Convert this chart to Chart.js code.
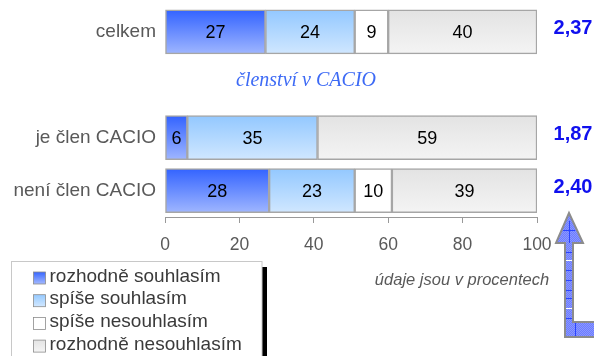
<!DOCTYPE html>
<html>
<head>
<meta charset="utf-8">
<script src="https://cdn.jsdelivr.net/npm/chart.js@4.4.1/dist/chart.umd.min.js"></script>
<style>
  html, body { margin: 0; padding: 0; background: #ffffff; }
  #wrap { width: 594px; height: 356px; }
</style>
</head>
<body>
<div id="wrap"><canvas id="c" width="594" height="356"></canvas></div>
<script>
// Rows of the chart; the empty row holds the "členství v CACIO" caption
const categories = ['celkem', '', 'je člen CACIO', 'není člen CACIO'];

// Answer shares in percent
const rozhodneSouhlasim   = [27, null, 6, 28];
const spiseSouhlasim      = [24, null, 35, 23];
const spiseNesouhlasim    = [9, null, 0, 10];
const rozhodneNesouhlasim = [40, null, 59, 39];

// Average score per row
const prumery = [2.37, null, 1.87, 2.40];

const seriesNames = ['rozhodně souhlasím', 'spíše souhlasím', 'spíše nesouhlasím', 'rozhodně nesouhlasím'];
const xTicks = [0, 20, 40, 60, 80, 100];

const groupCaption = 'členství v CACIO';
const unitNote = 'údaje jsou v procentech';

// Vertical colour ramps for each answer
const ramps = [
  ['#3363ff', '#9fb6ff'],
  ['#93c8ff', '#d0e7ff'],
  ['#ffffff', '#ffffff'],
  ['#e3e3e3', '#f4f4f4']
];

const BAR_H = 44;
const FONT = '"Liberation Sans", Arial, sans-serif';

function rampFill(idx) {
  return function (context) {
    const chart = context.chart;
    const yScale = chart.scales.y;
    if (!chart.chartArea || !yScale || context.dataIndex === undefined) return ramps[idx][0];
    const cy = yScale.getPixelForValue(context.dataIndex);
    const g = chart.ctx.createLinearGradient(0, cy - BAR_H / 2, 0, cy + BAR_H / 2);
    g.addColorStop(0, ramps[idx][0]);
    g.addColorStop(1, ramps[idx][1]);
    return g;
  };
}

const seriesData = [rozhodneSouhlasim, spiseSouhlasim, spiseNesouhlasim, rozhodneNesouhlasim];

const datasets = seriesData.map((d, i) => ({
  label: seriesNames[i],
  data: d,
  backgroundColor: rampFill(i),
  borderColor: '#a6a6a6',
  borderWidth: 1.5,
  borderSkipped: false,
  barThickness: BAR_H
}));

// Numbers inside the segments, averages on the right and the extra captions
const annotations = {
  id: 'annotations',
  afterDatasetsDraw(chart) {
    const ctx = chart.ctx;
    ctx.save();
    ctx.font = '18px ' + FONT;
    ctx.fillStyle = '#000000';
    ctx.textAlign = 'center';
    ctx.textBaseline = 'middle';
    chart.data.datasets.forEach((ds, di) => {
      const meta = chart.getDatasetMeta(di);
      meta.data.forEach((el, i) => {
        const v = ds.data[i];
        if (v === null || v === 0) return;
        ctx.fillText(String(v), (el.x + el.base) / 2, el.y + 1);
      });
    });

    const yScale = chart.scales.y;
    ctx.font = 'bold 20px ' + FONT;
    ctx.fillStyle = '#1010ee';
    prumery.forEach((m, i) => {
      if (m === null) return;
      ctx.fillText(m.toFixed(2).replace('.', ','), 573, yScale.getPixelForValue(i) - 3);
    });

    ctx.font = 'italic 20px "Liberation Serif", "Times New Roman", serif';
    ctx.fillStyle = '#3d6af5';
    ctx.fillText(groupCaption, 306, yScale.getPixelForValue(1) - 4);

    ctx.font = 'italic 16.5px ' + FONT;
    ctx.fillStyle = '#595959';
    ctx.fillText(unitNote, 462, 280);
    ctx.restore();
  },
  afterDraw(chart) {
    const ctx = chart.ctx;
    ctx.save();

    // legend box with its dark shadow edge
    ctx.fillStyle = '#000000';
    ctx.fillRect(262, 267, 5, 95);
    ctx.fillStyle = '#ffffff';
    ctx.fillRect(11.5, 261.5, 250.5, 100);
    ctx.strokeStyle = '#c8c8c8';
    ctx.lineWidth = 1;
    ctx.strokeRect(11.5, 261.5, 250.5, 100);

    ctx.font = '19px ' + FONT;
    ctx.textAlign = 'left';
    ctx.textBaseline = 'middle';
    seriesNames.forEach((name, i) => {
      const cy = 277.5 + i * 22.7;
      const g = ctx.createLinearGradient(0, cy - 6, 0, cy + 6);
      g.addColorStop(0, ramps[i][0]);
      g.addColorStop(1, ramps[i][1]);
      ctx.fillStyle = g;
      ctx.fillRect(33.5, cy - 5.5, 12, 12);
      ctx.strokeStyle = '#8c8c8c';
      ctx.lineWidth = 0.8;
      ctx.strokeRect(33.5, cy - 5.5, 12, 12);
      ctx.fillStyle = '#3a3a3a';
      ctx.fillText(name, 49.5, cy - 1);
    });

    // bent arrow at the right edge
    const pc = document.createElement('canvas');
    pc.width = 2; pc.height = 2;
    const p = pc.getContext('2d');
    p.fillStyle = '#6c7cff'; p.fillRect(0, 0, 2, 2);
    p.fillStyle = '#8b98ff'; p.fillRect(0, 0, 1, 1); p.fillRect(1, 1, 1, 1);
    ctx.fillStyle = ctx.createPattern(pc, 'repeat');
    const outline = () => {
      ctx.beginPath();
      ctx.moveTo(569, 213);
      ctx.lineTo(583, 243);
      ctx.lineTo(573, 243);
      ctx.lineTo(573, 322);
      ctx.lineTo(597, 322);
      ctx.lineTo(597, 337);
      ctx.lineTo(565, 337);
      ctx.lineTo(565, 243);
      ctx.lineTo(556, 243);
      ctx.closePath();
    };
    outline();
    ctx.fill();

    ctx.lineWidth = 1;
    ctx.strokeStyle = '#2a44ff';
    ctx.beginPath();
    [230, 252, 270, 280, 290, 298, 318].forEach(y => {
      const half = y < 243 ? 6 : 4;
      ctx.moveTo(569 - half, y + 0.5); ctx.lineTo(569 + half, y + 0.5);
    });
    ctx.moveTo(569.5, 221); ctx.lineTo(569.5, 243);
    ctx.moveTo(575.5, 322); ctx.lineTo(575.5, 337);
    ctx.stroke();
    ctx.strokeStyle = '#ffffff';
    ctx.beginPath();
    [260, 308].forEach(y => { ctx.moveTo(565, y + 0.5); ctx.lineTo(573, y + 0.5); });
    ctx.stroke();

    ctx.strokeStyle = '#8c8c8c';
    ctx.lineWidth = 2;
    ctx.lineJoin = 'miter';
    outline();
    ctx.stroke();
    ctx.restore();
  }
};

new Chart(document.getElementById('c'), {
  type: 'bar',
  data: { labels: categories, datasets: datasets },
  options: {
    indexAxis: 'y',
    responsive: false,
    animation: false,
    layout: { padding: { top: 5.5, right: 57, left: 0, bottom: 0 } },
    plugins: {
      legend: { display: false },
      tooltip: { enabled: false }
    },
    scales: {
      x: {
        stacked: true,
        min: 0,
        max: 100,
        afterBuildTicks(scale) { scale.ticks = xTicks.map(v => ({ value: v })); },
        afterFit(scale) { scale.height = 139; scale.paddingLeft = 0; scale.paddingRight = 0; },
        grid: { drawOnChartArea: false, drawTicks: true, tickLength: 6, color: '#999999' },
        border: { display: true, color: '#999999', width: 1 },
        ticks: { font: { family: FONT, size: 17.5 }, color: '#595959', padding: 12, maxRotation: 0 }
      },
      y: {
        stacked: true,
        afterFit(scale) { scale.width = 165; scale.paddingTop = 0; scale.paddingBottom = 0; },
        grid: { display: false, drawTicks: false },
        border: { display: false },
        ticks: { font: { family: FONT, size: 19 }, color: '#595959', padding: 9 }
      }
    }
  },
  plugins: [annotations]
});
</script>
</body>
</html>
